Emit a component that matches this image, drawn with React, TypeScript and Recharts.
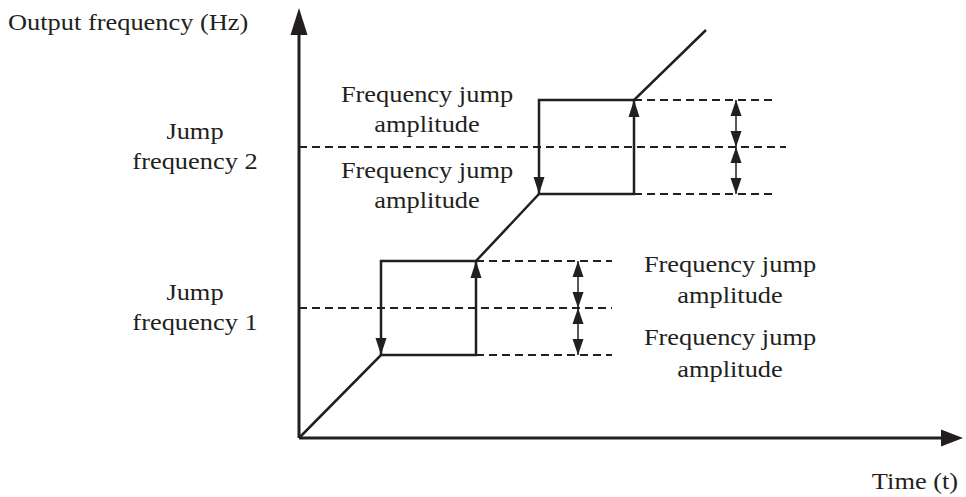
import React from 'react';
import { ComposedChart, Line, Scatter, ReferenceLine, XAxis, YAxis } from 'recharts';

// units: t = px right of origin, f = px above origin
const jumpFreq = [130, 291];        // jump frequency 1, 2
const jumpAmp = 47;                 // frequency jump amplitude
const holdStart = [82, 240];        // time the output enters the hold band
const holdEnd = [177, 335];         // time the output leaves the hold band
const finalPoint = [407, 408];      // end of the last ramp (t, f)
const guideEnd = [313, 473];        // end of the amplitude dashed lines
const centreGuideEnd = [313, 487];  // end of the jump-frequency dashed lines
const ampArrowT = [279, 437];       // position of the double arrows
const axisMax = [664, 430];         // arrow tips of the time / frequency axes

const ink = '#231f20';
const font = "'Liberation Serif', 'Times New Roman', Times, serif";

const lo = (i: number) => jumpFreq[i] - jumpAmp;
const hi = (i: number) => jumpFreq[i] + jumpAmp;

const rampPath = [
  { t: 0, f: 0 },
  { t: holdStart[0], f: lo(0) },
  { t: holdEnd[0], f: lo(0) },
  { t: holdEnd[0], f: hi(0) },
  { t: holdStart[1], f: lo(1) },
  { t: holdEnd[1], f: lo(1) },
  { t: holdEnd[1], f: hi(1) },
  { t: finalPoint[0], f: finalPoint[1] },
];

const returnPaths = [0, 1].map((i) => [
  { t: holdEnd[i], f: hi(i) },
  { t: holdStart[i], f: hi(i) },
  { t: holdStart[i], f: lo(i) },
]);

const heads = [
  { t: 0, f: axisMax[1], dir: 'up', len: 27, half: 8.5 },
  { t: axisMax[0], f: 0, dir: 'right', len: 22, half: 8.5 },
  ...[0, 1].flatMap((i) => [
    { t: holdEnd[i], f: hi(i), dir: 'up', len: 17, half: 5.5 },
    { t: holdStart[i], f: lo(i), dir: 'down', len: 17, half: 5.5 },
    { t: ampArrowT[i], f: hi(i), dir: 'up', len: 16, half: 5.5 },
    { t: ampArrowT[i], f: jumpFreq[i], dir: 'down', len: 16, half: 5.5 },
    { t: ampArrowT[i], f: jumpFreq[i], dir: 'up', len: 16, half: 5.5 },
    { t: ampArrowT[i], f: lo(i), dir: 'down', len: 16, half: 5.5 },
  ]),
];

const ArrowHead = (props: any) => {
  const { cx, cy, payload } = props;
  const { dir, len, half } = payload;
  let pts = '';
  if (dir === 'up') pts = `${cx},${cy} ${cx - half},${cy + len} ${cx + half},${cy + len}`;
  else if (dir === 'down') pts = `${cx},${cy} ${cx - half},${cy - len} ${cx + half},${cy - len}`;
  else pts = `${cx},${cy} ${cx - len},${cy - half} ${cx - len},${cy + half}`;
  return <polygon points={pts} fill={ink} />;
};

const labels = [
  { x: 8, y: 30, anchor: 'start', text: 'Output frequency (Hz)' },
  { x: 195, y: 139, anchor: 'middle', text: 'Jump' },
  { x: 195, y: 169, anchor: 'middle', text: 'frequency 2' },
  { x: 195, y: 300, anchor: 'middle', text: 'Jump' },
  { x: 195, y: 330, anchor: 'middle', text: 'frequency 1' },
  { x: 427, y: 102, anchor: 'middle', text: 'Frequency jump' },
  { x: 427, y: 132, anchor: 'middle', text: 'amplitude' },
  { x: 427, y: 178, anchor: 'middle', text: 'Frequency jump' },
  { x: 427, y: 208, anchor: 'middle', text: 'amplitude' },
  { x: 730, y: 272, anchor: 'middle', text: 'Frequency jump' },
  { x: 730, y: 303, anchor: 'middle', text: 'amplitude' },
  { x: 730, y: 345, anchor: 'middle', text: 'Frequency jump' },
  { x: 730, y: 377, anchor: 'middle', text: 'amplitude' },
  { x: 915, y: 489, anchor: 'middle', text: 'Time (t)' },
];

const App: React.FC = () => {
  return (
    <div style={{ position: 'absolute', left: 0, top: 0, width: 966, height: 497, background: '#fff' }}>
      <ComposedChart width={966} height={497} margin={{ top: 8, right: 3, bottom: 59, left: 299 }}>
        <XAxis type="number" dataKey="t" domain={[0, axisMax[0]]} hide />
        <YAxis type="number" dataKey="f" domain={[0, axisMax[1]]} hide />

        {/* axes */}
        <ReferenceLine segment={[{ x: 0, y: 0 }, { x: 0, y: axisMax[1] - 20 }]} stroke={ink} strokeWidth={3} />
        <ReferenceLine segment={[{ x: 0, y: 0 }, { x: axisMax[0] - 15, y: 0 }]} stroke={ink} strokeWidth={3} />

        {/* dashed guides */}
        {[0, 1].map((i) => (
          <React.Fragment key={`g-${i}`}>
            <ReferenceLine segment={[{ x: holdEnd[i], y: hi(i) }, { x: guideEnd[i], y: hi(i) }]} stroke={ink} strokeWidth={2.2} strokeDasharray="8 5" />
            <ReferenceLine segment={[{ x: 0, y: jumpFreq[i] }, { x: centreGuideEnd[i], y: jumpFreq[i] }]} stroke={ink} strokeWidth={2.2} strokeDasharray="8 5" />
            <ReferenceLine segment={[{ x: holdEnd[i], y: lo(i) }, { x: guideEnd[i], y: lo(i) }]} stroke={ink} strokeWidth={2.2} strokeDasharray="8 5" />
            <ReferenceLine segment={[{ x: ampArrowT[i], y: lo(i) }, { x: ampArrowT[i], y: hi(i) }]} stroke={ink} strokeWidth={1.5} />
          </React.Fragment>
        ))}

        <Line data={rampPath} dataKey="f" type="linear" stroke={ink} strokeWidth={2.5} dot={false} activeDot={false} isAnimationActive={false} />
        {returnPaths.map((p, i) => (
          <Line key={`r-${i}`} data={p} dataKey="f" type="linear" stroke={ink} strokeWidth={2.5} dot={false} activeDot={false} isAnimationActive={false} />
        ))}
        <Scatter data={heads} dataKey="f" shape={ArrowHead} isAnimationActive={false} />

        <g>
          {labels.map((l, i) => (
            <text
              key={i}
              transform={`translate(${l.x},${l.y}) scale(1.1,1)`}
              textAnchor={l.anchor as any}
              style={{ fontFamily: font }}
              fontSize={24}
              fill={ink}
            >
              {l.text}
            </text>
          ))}
        </g>
      </ComposedChart>
    </div>
  );
};

export default App;
